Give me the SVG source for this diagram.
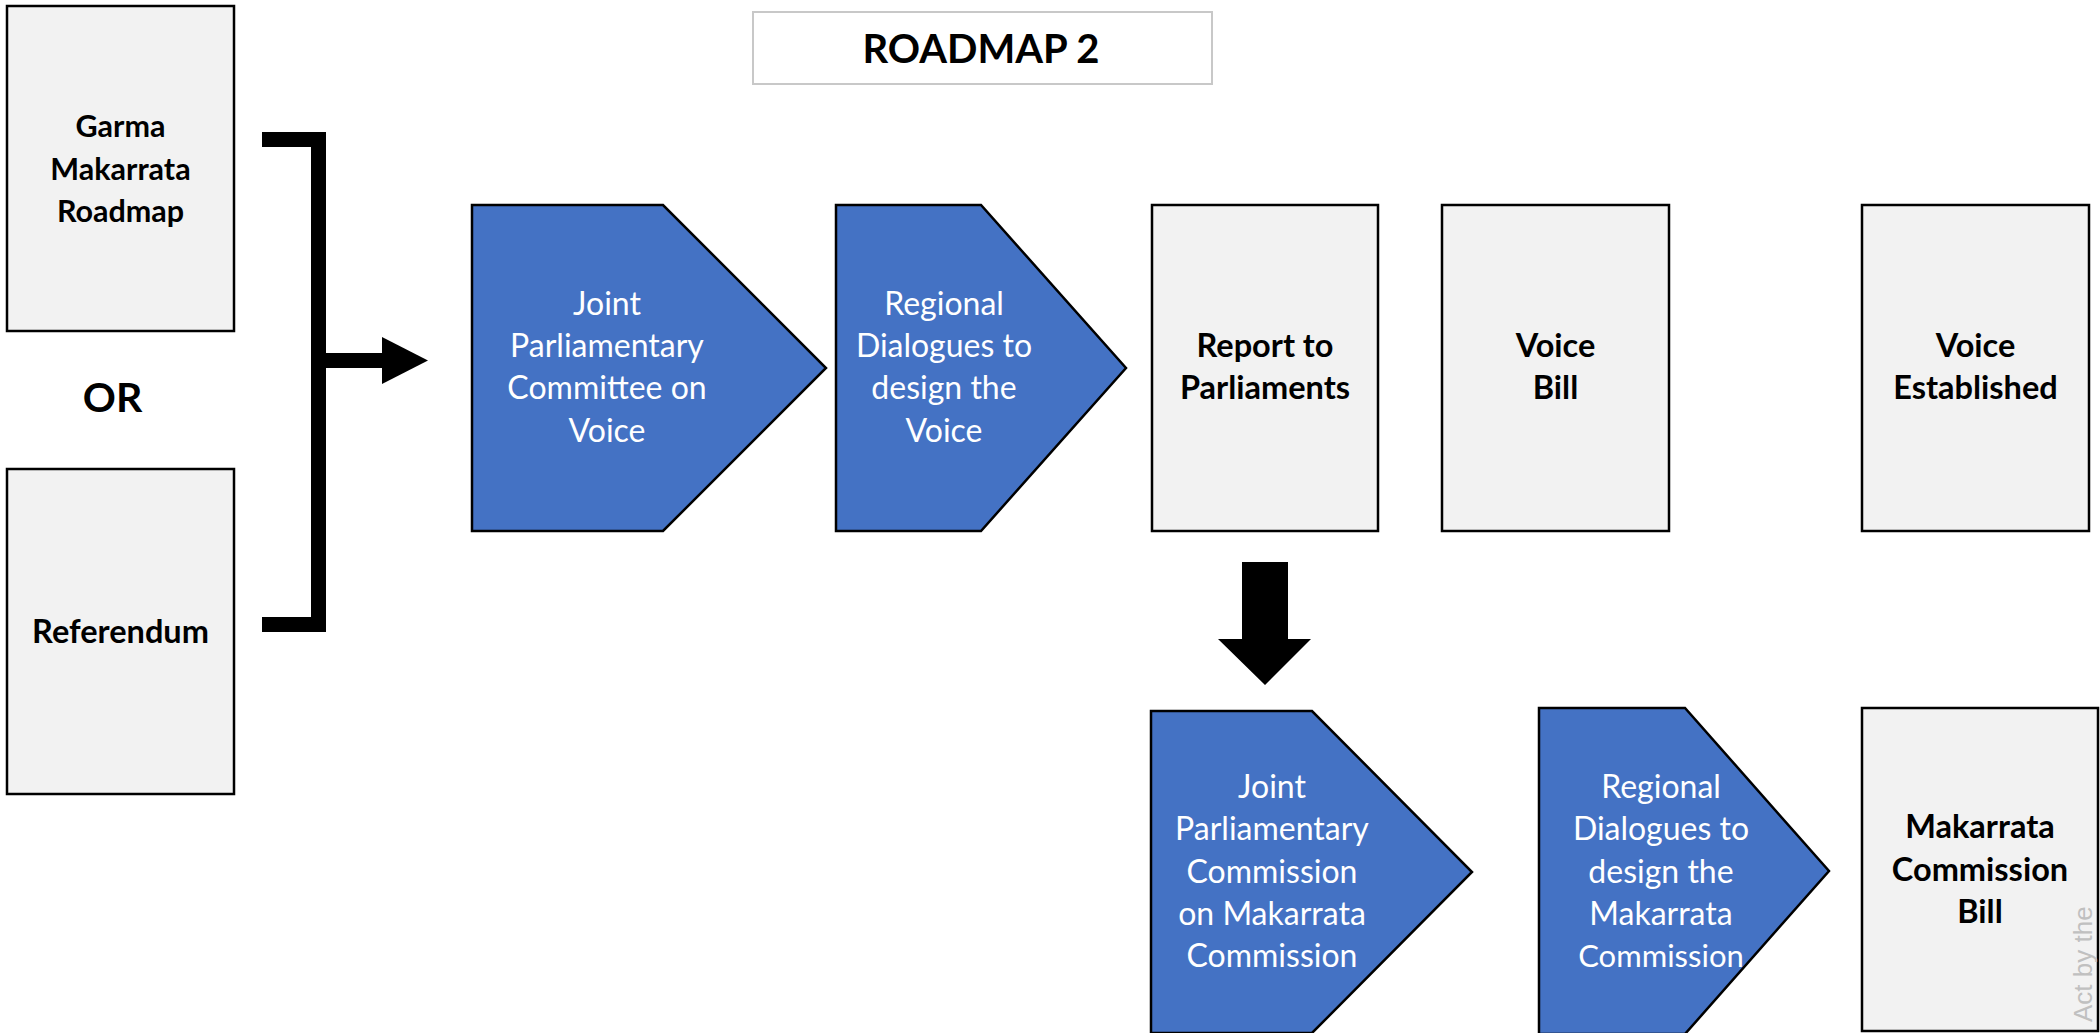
<svg xmlns="http://www.w3.org/2000/svg" width="2100" height="1033" viewBox="0 0 2100 1033">
<style>
.gbox{fill:#f2f2f2;stroke:#000;stroke-width:2.5}
.chev{fill:#4472c4;stroke:#000;stroke-width:2.5;stroke-linejoin:miter}
.bt{font-family:Lato,"Liberation Sans",sans-serif;font-weight:bold;font-size:32.5px;fill:#000;text-anchor:middle}
.wt{font-family:Lato,"Liberation Sans",sans-serif;font-size:32px;fill:#fff;text-anchor:middle}
.conn{fill:#000;stroke:none}
</style>
<rect width="2100" height="1033" fill="#fff"/>
<g id="title">
<rect x="753" y="12" width="459" height="72" fill="#fff" stroke="#c8c8c8" stroke-width="2"/>
<text x="981" y="63" class="bt" style="font-size:40px">ROADMAP 2</text>
</g>
<g id="garma">
<rect class="gbox" x="7" y="6" width="227" height="325"/>
<text class="bt" x="120.5" y="137" style="font-size:30.5px">Garma</text>
<text class="bt" x="120.5" y="180" style="font-size:30.5px">Makarrata</text>
<text class="bt" x="120.5" y="222" style="font-size:30.5px">Roadmap</text>
</g>
<g id="or">
<text class="bt" x="112.5" y="412" style="font-size:41px">OR</text>
</g>
<g id="referendum">
<rect class="gbox" x="7" y="469" width="227" height="325"/>
<text class="bt" x="120.5" y="643">Referendum</text>
</g>
<g id="jpc-voice">
<polygon class="chev" points="472,205 663,205 826,368 663,531 472,531"/>
<text class="wt" x="607" y="315">Joint</text>
<text class="wt" x="607" y="357">Parliamentary</text>
<text class="wt" x="607" y="399">Committee on</text>
<text class="wt" x="607" y="442">Voice</text>
</g>
<g id="rd-voice">
<polygon class="chev" points="836,205 981,205 1126,368 981,531 836,531"/>
<text class="wt" x="944" y="315">Regional</text>
<text class="wt" x="944" y="357">Dialogues to</text>
<text class="wt" x="944" y="399">design the</text>
<text class="wt" x="944" y="442">Voice</text>
</g>
<g id="report">
<rect class="gbox" x="1152" y="205" width="226" height="326"/>
<text class="bt" x="1265" y="357">Report to</text>
<text class="bt" x="1265" y="399">Parliaments</text>
</g>
<g id="voice-bill">
<rect class="gbox" x="1442" y="205" width="227" height="326"/>
<text class="bt" x="1555.5" y="357">Voice</text>
<text class="bt" x="1555.5" y="399">Bill</text>
</g>
<g id="voice-established">
<rect class="gbox" x="1862" y="205" width="227" height="326"/>
<text class="bt" x="1975.5" y="357">Voice</text>
<text class="bt" x="1975.5" y="399">Established</text>
</g>
<g id="jpc-makarrata">
<polygon class="chev" points="1151,711 1312,711 1472,872 1312,1033 1151,1033"/>
<text class="wt" x="1272" y="798">Joint</text>
<text class="wt" x="1272" y="840">Parliamentary</text>
<text class="wt" x="1272" y="883">Commission</text>
<text class="wt" x="1272" y="925">on Makarrata</text>
<text class="wt" x="1272" y="967">Commission</text>
</g>
<g id="rd-makarrata">
<polygon class="chev" points="1539,708 1685,708 1829,871 1685,1034 1539,1034"/>
<text class="wt" x="1661" y="798">Regional</text>
<text class="wt" x="1661" y="840">Dialogues to</text>
<text class="wt" x="1661" y="883">design the</text>
<text class="wt" x="1661" y="925">Makarrata</text>
<text class="wt" x="1661" y="967" style="font-size:31px">Commission</text>
</g>
<g id="makarrata-bill">
<rect class="gbox" x="1862" y="708" width="236" height="323"/>
<text class="bt" x="1980" y="838">Makarrata</text>
<text class="bt" x="1980" y="881">Commission</text>
<text class="bt" x="1980" y="923">Bill</text>
<text x="2092" y="1022" transform="rotate(-90 2092 1022)" font-family="'Liberation Sans',Arial,sans-serif" font-size="26" fill="#c0c0c0">Act by the</text>
</g>
<g id="connectors">
<path d="M262,139.5 H318.5 V624.5 H262" fill="none" stroke="#000" stroke-width="15" stroke-linejoin="miter"/>
<rect class="conn" x="318" y="353" width="65" height="15"/>
<polygon class="conn" points="382,337 428,360.5 382,384"/>
<polygon class="conn" points="1242,562 1288,562 1288,639 1311,639 1265,685 1218,639 1242,639"/>
</g>
</svg>
